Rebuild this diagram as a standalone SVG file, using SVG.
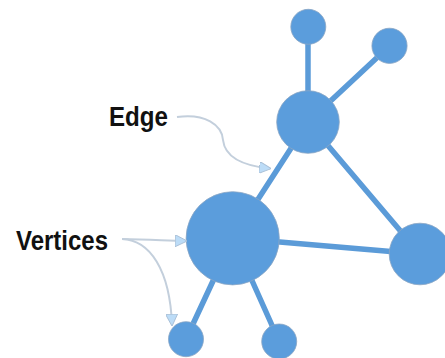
<svg xmlns="http://www.w3.org/2000/svg" width="445" height="358" viewBox="0 0 445 358">
  <style>
    .edge { stroke: #5b9bd8; stroke-width: 5.5; stroke-linecap: round; fill: none; }
    .vertex { fill: #5b9ddc; stroke: #8aa6c4; stroke-width: 0.8; }
    .callout { stroke: #c3cfdc; stroke-width: 2; fill: none; marker-end: url(#head); }
    .label { font-family: "Liberation Sans", Arial, sans-serif; font-weight: bold; font-size: 27px; fill: #111111; }
  </style>
  <defs>
    <marker id="head" viewBox="0 0 10 10" refX="9" refY="5" markerWidth="6" markerHeight="6" orient="auto" markerUnits="strokeWidth">
      <path d="M0,0 L10,5 L0,10 Z" fill="#bcdcf7" stroke="#a9bfd6" stroke-width="0.8"/>
    </marker>
  </defs>
  <rect width="445" height="358" fill="#ffffff"/>

  <!-- graph edges -->
  <g id="edges">
    <line class="edge" x1="308" y1="27" x2="308" y2="122"/>
    <line class="edge" x1="389.5" y1="46" x2="308" y2="122"/>
    <line class="edge" x1="308" y1="122" x2="233" y2="238"/>
    <line class="edge" x1="308" y1="122" x2="420" y2="254"/>
    <line class="edge" x1="233" y1="238" x2="420" y2="254"/>
    <line class="edge" x1="233" y1="238" x2="186" y2="339"/>
    <line class="edge" x1="233" y1="238" x2="279" y2="341"/>
  </g>

  <!-- vertices -->
  <g id="v-top"><circle class="vertex" cx="308.3" cy="26.8" r="17.5"/></g>
  <g id="v-topright"><circle class="vertex" cx="389.5" cy="45.8" r="17.6"/></g>
  <g id="v-middle"><circle class="vertex" cx="308" cy="122" r="31.3"/></g>
  <g id="v-large"><circle class="vertex" cx="232.7" cy="238.3" r="46.6"/></g>
  <g id="v-right"><circle class="vertex" cx="420" cy="254" r="30.8"/></g>
  <g id="v-bottomleft"><circle class="vertex" cx="186" cy="339.2" r="17.5"/></g>
  <g id="v-bottom"><circle class="vertex" cx="279.2" cy="341.5" r="17.5"/></g>

  <!-- labels with callout arrows -->
  <g id="label-edge">
    <text class="label" x="109" y="126" textLength="59" lengthAdjust="spacingAndGlyphs">Edge</text>
  </g>
  <g id="label-vertices">
    <text class="label" x="16" y="249.5" textLength="92" lengthAdjust="spacingAndGlyphs">Vertices</text>
  </g>
  <g id="callouts">
    <path class="callout" d="M177,117 C205,113 222,125 223,140 C225,158 245,166 270,168.5"/>
    <path class="callout" d="M122,239 C150,239.5 165,240.5 186,241"/>
    <path class="callout" d="M122,239 C150,240 170,270 172,325"/>
  </g>
</svg>
